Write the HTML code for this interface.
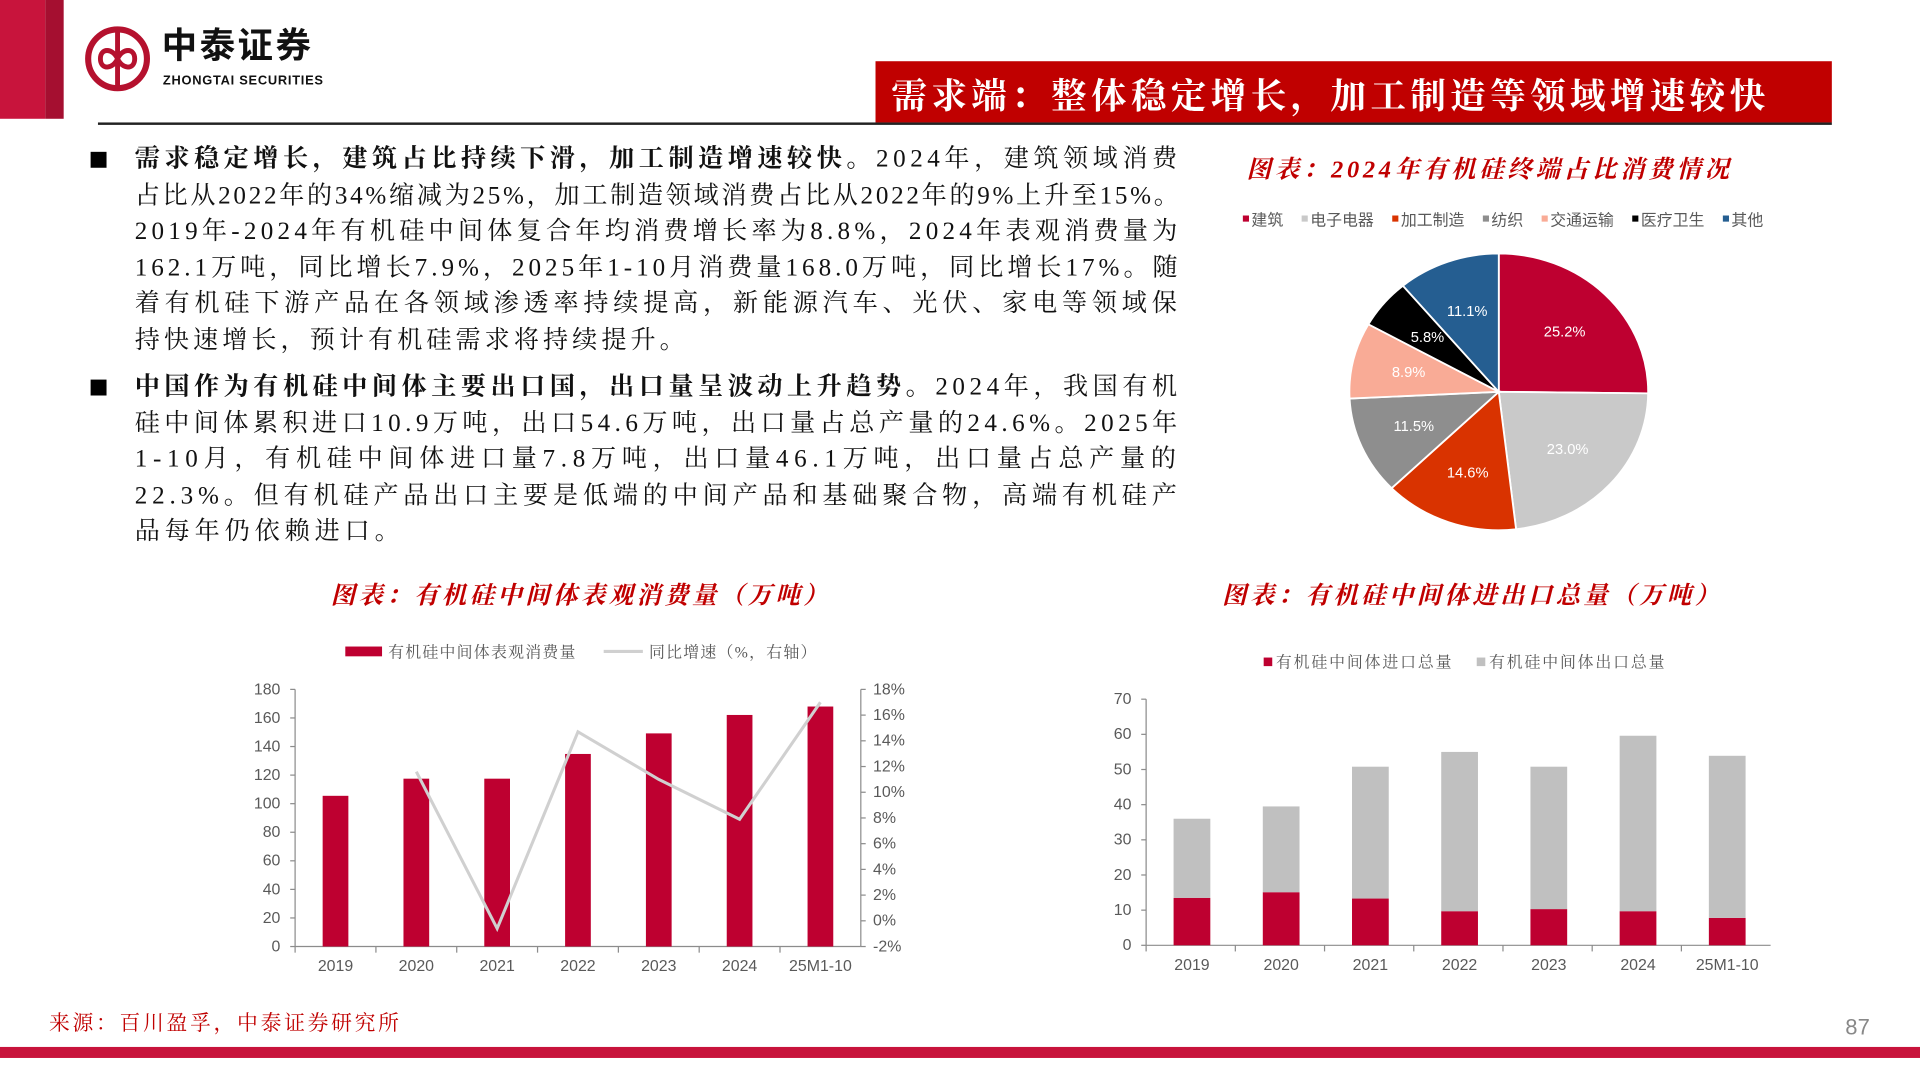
<!DOCTYPE html>
<html><head><meta charset="utf-8">
<style>
html,body{margin:0;padding:0;background:#fff;overflow:hidden}
body{width:1920px;height:1080px;position:relative}
#stage{position:absolute;left:0;top:0;width:1568px;height:882px;transform:scale(1.22449);transform-origin:0 0;font-family:"Liberation Sans","Noto Sans CJK SC",sans-serif}
.abs{position:absolute}
.para{position:absolute;left:110px;font-family:"Liberation Serif","Noto Serif CJK SC",serif;font-size:20.5px;line-height:29.5px;color:#111;white-space:nowrap}
.para span{display:block}
.bullet{position:absolute;left:74px;width:13px;height:13px;background:#000}
.ctitle{position:absolute;font-family:"Liberation Serif","Noto Serif CJK SC",serif;font-style:italic;font-weight:bold;color:#C00000;font-size:20px;white-space:nowrap}
</style></head><body>
<div id="stage">
  <div class="abs" style="left:0;top:0;width:37px;height:97px;background:#C8143C"></div>
  <div class="abs" style="left:37px;top:0;width:15px;height:97px;background:#A50F30"></div>
  <svg class="abs" style="left:68px;top:20px" width="56" height="56" viewBox="0 0 56 56">
    <circle cx="28" cy="28" r="24" fill="none" stroke="#B5112E" stroke-width="5"/>
    <path d="M28 4 V52 M14 28 c0 -9 10 -9 14 0 c4 9 14 9 14 0 c0 -9 -10 -9 -14 0 c-4 9 -14 9 -14 0z" fill="none" stroke="#B5112E" stroke-width="4"/>
  </svg>
  <div class="abs" style="left:132px;top:20px;font-size:29px;line-height:36px;font-weight:bold;color:#111;letter-spacing:2px">中泰证券</div>
  <div class="abs" style="left:133px;top:60px;font-size:10.5px;line-height:12px;font-weight:bold;color:#111;letter-spacing:0.6px">ZHONGTAI SECURITIES</div>
  <div class="abs" style="left:715px;top:50px;width:781px;height:50px;background:#C00000"></div>
  <div class="abs" style="left:728px;top:56px;font-size:29px;font-weight:bold;color:#fff;font-family:'Liberation Serif','Noto Serif CJK SC',serif;white-space:nowrap;letter-spacing:3.6px">需求端：整体稳定增长，加工制造等领域增速较快</div>
  <div class="abs" style="left:80px;top:100px;width:1416px;height:2px;background:#222"></div>

  <div class="bullet" style="top:124px"></div>
  <div class="para" style="top:116px"><span><b>需求稳定增长，建筑占比持续下滑，加工制造增速较快。</b>2024年，建筑领域消费</span><span>占比从2022年的34%缩减为25%，加工制造领域消费占比从2022年的9%上升至15%。</span><span>2019年-2024年有机硅中间体复合年均消费增长率为8.8%，2024年表观消费量为</span><span>162.1万吨，同比增长7.9%，2025年1-10月消费量168.0万吨，同比增长17%。随</span><span>着有机硅下游产品在各领域渗透率持续提高，新能源汽车、光伏、家电等领域保</span><span class="last">持快速增长，预计有机硅需求将持续提升。</span></div>
  <div class="bullet" style="top:310px"></div>
  <div class="para" style="top:302px"><span><b>中国作为有机硅中间体主要出口国，出口量呈波动上升趋势。</b>2024年，我国有机</span><span>硅中间体累积进口10.9万吨，出口54.6万吨，出口量占总产量的24.6%。2025年</span><span>1-10月，有机硅中间体进口量7.8万吨，出口量46.1万吨，出口量占总产量的</span><span>22.3%。但有机硅产品出口主要是低端的中间产品和基础聚合物，高端有机硅产</span><span class="last">品每年仍依赖进口。</span></div>

  <div class="ctitle" style="left:1018px;top:122px;letter-spacing:3px">图表：2024年有机硅终端占比消费情况</div>
  <div class="ctitle" style="left:270px;top:470px;letter-spacing:2.7px">图表：有机硅中间体表观消费量（万吨）</div>
  <div class="ctitle" style="left:998px;top:470px;letter-spacing:2.7px">图表：有机硅中间体进出口总量（万吨）</div>

  <svg id="charts" class="abs" style="left:0;top:0" width="1568" height="882"></svg>

  <div class="abs" style="left:40px;top:821px;font-size:17px;color:#C00000;font-family:'Liberation Serif','Noto Serif CJK SC',serif;letter-spacing:2.2px">来源：百川盈孚，中泰证券研究所</div>
  <div class="abs" style="left:1507px;top:829px;font-size:18px;color:#888">87</div>
  <div class="abs" style="left:0;top:855px;width:1568px;height:9px;background:#C8143C"></div>
</div>
<script>
// Pie data
const pieLabels = ['建筑','电子电器','加工制造','纺织','交通运输','医疗卫生','其他'];
const pieValues = [25.2,23.0,14.6,11.5,8.9,5.8,11.1];
const pieColors = ['#BE0030','#C9C9C9','#D93300','#8E8E8E','#F9AB96','#000000','#255E91'];
// Consumption chart data
const consCategories = ['2019','2020','2021','2022','2023','2024','25M1-10'];
const consValues = [105.5,117.5,117.5,134.8,149.2,162.1,168.0];
const growthValues = [null,11.6,-0.6,14.7,11.0,7.9,17.0];
const consLeftTicks = [0,20,40,60,80,100,120,140,160,180];
const consRightTicks = [-2,0,2,4,6,8,10,12,14,16,18];
// Trade chart data
const tradeCategories = ['2019','2020','2021','2022','2023','2024','25M1-10'];
const importValues = [13.5,15.1,13.3,9.7,10.3,9.7,7.8];
const exportValues = [22.5,24.4,37.5,45.3,40.5,49.9,46.1];
const tradeTicks = [0,10,20,30,40,50,60,70];

// justify paragraph lines to target width
document.querySelectorAll('.para').forEach(p=>{
  const spans=[...p.querySelectorAll('span')];
  let sp=0,cnt=0;
  spans.forEach(s=>{
    if(s.classList.contains('last'))return;
    s.style.display='inline-block';
    const w=s.getBoundingClientRect().width/1.22449;
    const n=s.textContent.length;
    const ls=(855-w)/n;
    s.style.letterSpacing=ls+'px';
    s.style.display='block';
    sp+=ls;cnt++;
  });
  spans.forEach(s=>{if(s.classList.contains('last'))s.style.letterSpacing=(sp/cnt)+'px';});
});

const NS='http://www.w3.org/2000/svg';
const svg=document.getElementById('charts');
function mk(tag,attrs,parent){const e=document.createElementNS(NS,tag);for(const k in attrs)e.setAttribute(k,attrs[k]);(parent||svg).appendChild(e);return e;}
function txt(x,y,s,attrs,parent){const e=mk('text',Object.assign({x:x,y:y,'font-size':13,fill:'#595959','font-family':'Liberation Sans, Noto Sans CJK SC, sans-serif'},attrs||{}),parent);e.textContent=s;return e;}

// ---------- Pie ----------
const pg=mk('g',{});


const cx=1224,cy=320,RX=122,RY=113;
const total=pieValues.reduce((a,b)=>a+b,0);
let ang=0;
pieValues.forEach((v,i)=>{
  const a0=ang/total*2*Math.PI, a1=(ang+v)/total*2*Math.PI; ang+=v;
  const x0=cx+RX*Math.sin(a0),y0=cy-RY*Math.cos(a0),x1=cx+RX*Math.sin(a1),y1=cy-RY*Math.cos(a1);
  const p=mk('path',{d:`M${cx} ${cy} L${x0} ${y0} A${RX} ${RY} 0 ${a1-a0>Math.PI?1:0} 1 ${x1} ${y1}Z`,fill:pieColors[i],stroke:'#fff','stroke-width':1.5},pg);
  
  
  const am=(a0+a1)/2;
  const t=txt(cx+RX*0.62*Math.sin(am),cy-RY*0.62*Math.cos(am)+4,v.toFixed(1)+'%',{'text-anchor':'middle',fill:'#fff','font-size':12},pg);
  
  
});
let lx=1015;
pieLabels.forEach((l,i)=>{
  const g=mk('g',{},pg);
  
  
  mk('rect',{x:lx,y:176,width:5,height:5,fill:pieColors[i]},g);
  txt(lx+7,184,l,{'font-size':13},g);
  lx+=7+l.length*13+15;
});

// ---------- Consumption chart ----------
const cg=mk('g',{});


const cX0=241,cX1=703,cYb=773,cYt=563;
const cStep=(cX1-cX0)/consCategories.length;
const cx_=i=>cX0+cStep*(i+0.5);
const cyL=v=>cYb-v/180*(cYb-cYt);
const cyR=v=>cYb-(v+2)/20*(cYb-cYt);
mk('line',{x1:cX0,y1:cYt,x2:cX0,y2:cYb,stroke:'#8c8c8c'},cg);
mk('line',{x1:cX1,y1:cYt,x2:cX1,y2:cYb,stroke:'#8c8c8c'},cg);
mk('line',{x1:cX0,y1:cYb,x2:cX1,y2:cYb,stroke:'#8c8c8c'},cg);
consLeftTicks.forEach(t=>{mk('line',{x1:cX0-4,y1:cyL(t),x2:cX0,y2:cyL(t),stroke:'#8c8c8c'},cg);txt(cX0-12,cyL(t)+4,String(t),{'text-anchor':'end'},cg);});
consRightTicks.forEach(t=>{mk('line',{x1:cX1,y1:cyR(t),x2:cX1+4,y2:cyR(t),stroke:'#8c8c8c'},cg);txt(cX1+10,cyR(t)+4,t+'%',{},cg);});
consCategories.forEach((c,i)=>{
  mk('line',{x1:cX0+cStep*i,y1:cYb,x2:cX0+cStep*i,y2:cYb+5,stroke:'#8c8c8c'},cg);
  txt(cx_(i),793,c,{'text-anchor':'middle'},cg);
  const b=mk('rect',{x:cx_(i)-10.5,y:cyL(consValues[i]),width:21,height:cYb-cyL(consValues[i]),fill:'#BE0030'},cg);
  
  
});
let pts=[];growthValues.forEach((v,i)=>{if(v!==null)pts.push(cx_(i)+','+cyR(v));});
const gl=mk('polyline',{points:pts.join(' '),fill:'none',stroke:'#D0D0D0','stroke-width':2.5},cg);


const lg1=mk('g',{},cg);


mk('rect',{x:282,y:528,width:30,height:8,fill:'#BE0030'},lg1);
txt(317,537,'有机硅中间体表观消费量',{'font-family':'Liberation Serif, Noto Serif CJK SC, serif','letter-spacing':1},lg1);
mk('line',{x1:493,y1:532,x2:525,y2:532,stroke:'#D0D0D0','stroke-width':2.5},lg1);
txt(530,537,'同比增速（%，右轴）',{'font-family':'Liberation Serif, Noto Serif CJK SC, serif','letter-spacing':1},lg1);

// ---------- Trade chart ----------
const tg=mk('g',{});


const tX0=936,tX1=1446,tYb=772,tYt=571;
const tStep=(tX1-tX0)/tradeCategories.length;
const tx_=i=>tX0+tStep*(i+0.5);
const ty=v=>tYb-v/70*(tYb-tYt);
mk('line',{x1:tX0,y1:tYt,x2:tX0,y2:tYb,stroke:'#8c8c8c'},tg);
mk('line',{x1:tX0,y1:tYb,x2:tX1,y2:tYb,stroke:'#8c8c8c'},tg);
tradeTicks.forEach(t=>{mk('line',{x1:tX0-4,y1:ty(t),x2:tX0,y2:ty(t),stroke:'#8c8c8c'},tg);txt(tX0-12,ty(t)+4,String(t),{'text-anchor':'end'},tg);});
tradeCategories.forEach((c,i)=>{
  mk('line',{x1:tX0+tStep*i,y1:tYb,x2:tX0+tStep*i,y2:tYb+5,stroke:'#8c8c8c'},tg);
  txt(tx_(i)+1,792,c,{'text-anchor':'middle'},tg);
  const imp=importValues[i],exp=exportValues[i];
  const b1=mk('rect',{x:tx_(i)-14,y:ty(imp),width:30,height:tYb-ty(imp),fill:'#BE0030'},tg);
  
  
  const b2=mk('rect',{x:tx_(i)-14,y:ty(imp+exp),width:30,height:ty(imp)-ty(imp+exp),fill:'#C0C0C0'},tg);
  
  
});
const lg2=mk('g',{},tg);


mk('rect',{x:1032,y:537,width:7,height:7,fill:'#BE0030'},lg2);
txt(1042,545,'有机硅中间体进口总量',{'font-family':'Liberation Serif, Noto Serif CJK SC, serif','letter-spacing':1.5},lg2);
mk('rect',{x:1206,y:537,width:7,height:7,fill:'#C0C0C0'},lg2);
txt(1216,545,'有机硅中间体出口总量',{'font-family':'Liberation Serif, Noto Serif CJK SC, serif','letter-spacing':1.5},lg2);
</script>
</body></html>
